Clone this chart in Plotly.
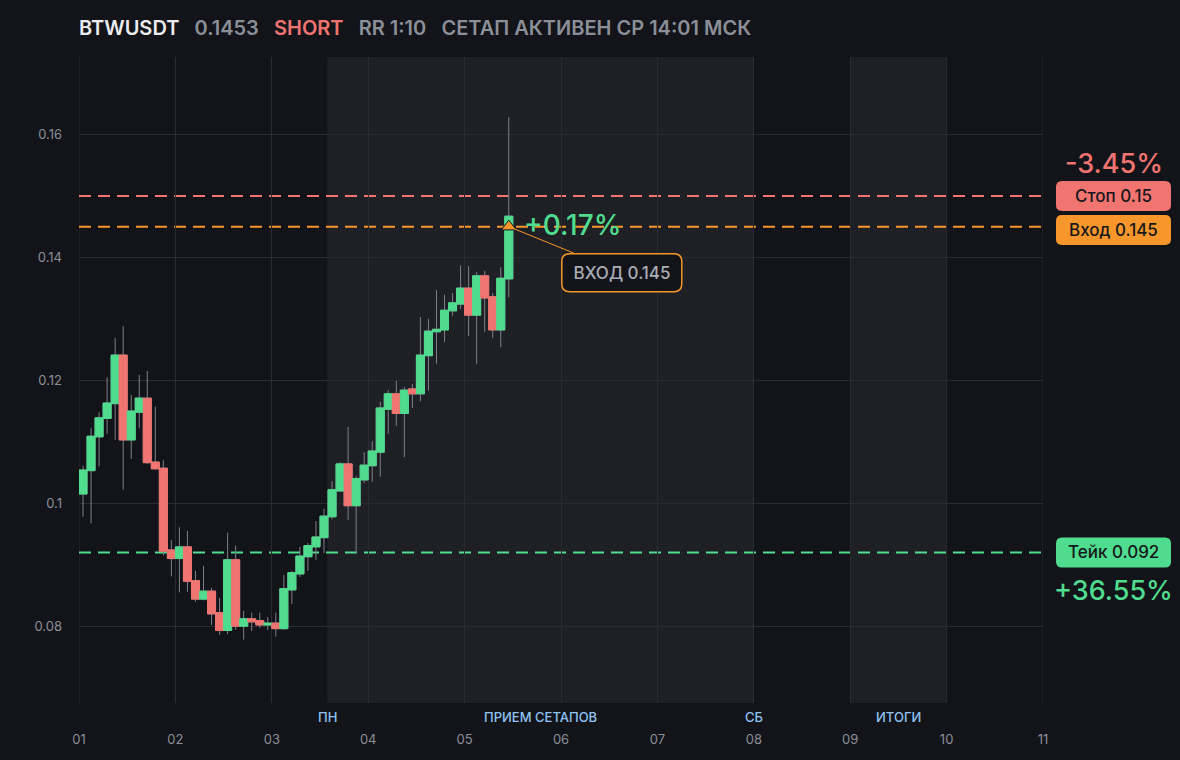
import numpy as np
import plotly.graph_objects as go

# ---- Data: 2h candles, BTWUSDT ----
opens = [0.1015, 0.1053, 0.1108, 0.1138, 0.1162, 0.1241, 0.1103, 0.1148, 0.1171, 0.1067,
         0.1057, 0.0924, 0.0910, 0.0929, 0.0874, 0.0844, 0.0857, 0.0822, 0.0793, 0.0908,
         0.0800, 0.0812, 0.0809, 0.0802, 0.0805, 0.0796, 0.0859, 0.0885, 0.0913, 0.0929,
         0.0944, 0.0978, 0.1020, 0.1064, 0.0996, 0.1038, 0.1061, 0.1083, 0.1153, 0.1178,
         0.1146, 0.1186, 0.1178, 0.1240, 0.1279, 0.1282, 0.1313, 0.1324, 0.1350, 0.1306,
         0.1370, 0.1336, 0.1282, 0.1365]
highs = [0.1061, 0.1122, 0.1148, 0.1205, 0.1269, 0.1288, 0.1176, 0.1209, 0.1215, 0.1157,
         0.1070, 0.0940, 0.0961, 0.0955, 0.0890, 0.0898, 0.0862, 0.0846, 0.0952, 0.0931,
         0.0825, 0.0822, 0.0822, 0.0815, 0.0822, 0.0883, 0.0890, 0.0929, 0.0935, 0.0971,
         0.0991, 0.1036, 0.1067, 0.1124, 0.1044, 0.1083, 0.1101, 0.1165, 0.1184, 0.1199,
         0.1189, 0.1194, 0.1303, 0.1300, 0.1347, 0.1339, 0.1342, 0.1387, 0.1386, 0.1376,
         0.1378, 0.1342, 0.1384, 0.1628]
lows = [0.0978, 0.0967, 0.1060, 0.1113, 0.1103, 0.1022, 0.1072, 0.1122, 0.1064, 0.1055,
        0.0915, 0.0881, 0.0855, 0.0856, 0.0840, 0.0842, 0.0802, 0.0786, 0.0787, 0.0794,
        0.0778, 0.0792, 0.0797, 0.0794, 0.0783, 0.0794, 0.0836, 0.0880, 0.0890, 0.0908,
        0.0919, 0.0974, 0.1019, 0.0973, 0.0919, 0.1033, 0.1035, 0.1043, 0.1113, 0.1126,
        0.1075, 0.1155, 0.1166, 0.1183, 0.1227, 0.1262, 0.1305, 0.1316, 0.1272, 0.1227,
        0.1279, 0.1269, 0.1254, 0.1335]
closes = [0.1054, 0.1109, 0.1139, 0.1163, 0.1241, 0.1103, 0.1150, 0.1171, 0.1066, 0.1056,
          0.0922, 0.0910, 0.0929, 0.0873, 0.0844, 0.0857, 0.0820, 0.0793, 0.0908, 0.0800,
          0.0812, 0.0807, 0.0802, 0.0805, 0.0796, 0.0861, 0.0887, 0.0914, 0.0931, 0.0945,
          0.0979, 0.1022, 0.1064, 0.0996, 0.1040, 0.1062, 0.1085, 0.1155, 0.1178, 0.1146,
          0.1184, 0.1178, 0.1241, 0.1280, 0.1283, 0.1314, 0.1326, 0.1350, 0.1306, 0.1370,
          0.1334, 0.1282, 0.1366, 0.1467]

STOP, ENTRY, TAKE = 0.15, 0.145, 0.092
day_ticks = list(range(1, 12))
day_labels = ["01", "02", "03", "04", "05", "06", "07", "08", "09", "10", "11"]
session_start, session_end = 3.575, 8.0
summary_start, summary_end = 9.0, 10.0

# candle centres: every 2 hours from day 1
times = 1 + (2 * np.arange(len(opens)) + 1) / 24

# ---- Layout geometry ----
W, H = 1180, 760
ML, MR, MT, MB = 79, 137, 57, 57
PW, PH = W - ML - MR, H - MT - MB
X_RANGE = [1, 11]
Y_RANGE = [0.0675, 0.1726]

BG = "#131419"
SHADE = "#1f2025"
GRID = "#2a2b31"
GREEN = "#4fdc8f"
RED = "#f07470"
ORANGE = "#f7972b"
GRAY = "#8b8f98"
BLUE = "#90c4f4"
FONT = "Inter"


def x_px(v):
    return ML + (v - X_RANGE[0]) / (X_RANGE[1] - X_RANGE[0]) * PW


def y_px(v):
    return MT + (Y_RANGE[1] - v) / (Y_RANGE[1] - Y_RANGE[0]) * PH


def px_x(p):
    return (p - ML) / PW


def px_y(p):
    return (H - MB - p) / PH


def rounded_box(x0, y0, x1, y1, r, fill, line_color, line_width=0):
    # pixel box -> paper-space path with rounded corners
    pts = [
        ("M", x0 + r, y0), ("L", x1 - r, y0), ("Q", x1, y0, x1, y0 + r),
        ("L", x1, y1 - r), ("Q", x1, y1, x1 - r, y1), ("L", x0 + r, y1),
        ("Q", x0, y1, x0, y1 - r), ("L", x0, y0 + r), ("Q", x0, y0, x0 + r, y0),
    ]
    path = ""
    for p in pts:
        cmd, coords = p[0], p[1:]
        s = []
        for k in range(0, len(coords), 2):
            s.append(f"{px_x(coords[k]):.5f},{px_y(coords[k + 1]):.5f}")
        path += cmd + " ".join(s) + " "
    return dict(type="path", path=path + "Z", xref="paper", yref="paper",
                fillcolor=fill, line=dict(color=line_color, width=line_width), layer="above")


fig = go.Figure()

# wicks (gray)
fig.add_trace(go.Candlestick(
    x=times, open=opens, high=highs, low=lows, close=closes,
    increasing=dict(line=dict(color="#7d8088", width=1), fillcolor="rgba(0,0,0,0)"),
    decreasing=dict(line=dict(color="#7d8088", width=1), fillcolor="rgba(0,0,0,0)"),
    whiskerwidth=0, hoverinfo="skip", showlegend=False,
))
# bodies
body_hi = [max(o, c) for o, c in zip(opens, closes)]
body_lo = [min(o, c) for o, c in zip(opens, closes)]
fig.add_trace(go.Candlestick(
    x=times, open=opens, high=body_hi, low=body_lo, close=closes,
    increasing=dict(line=dict(color=GREEN, width=1), fillcolor=GREEN),
    decreasing=dict(line=dict(color=RED, width=1), fillcolor=RED),
    whiskerwidth=0, showlegend=False,
))

# entry marker
x_last = times[-1]
fig.add_trace(go.Scatter(
    x=[x_last], y=[ENTRY], mode="markers", showlegend=False, hoverinfo="skip",
    marker=dict(symbol="triangle-up", size=13, color=ORANGE, line=dict(color=BG, width=1)),
))

shapes = []
# session shading
for a, b in [(session_start, session_end), (summary_start, summary_end)]:
    shapes.append(dict(type="rect", xref="x", yref="paper", x0=a, x1=b, y0=0, y1=1,
                       fillcolor=SHADE, line=dict(width=0), layer="below"))
# grid lines at the range edges (plotly skips them)
for xv in (X_RANGE[0], X_RANGE[1]):
    shapes.append(dict(type="line", xref="x", yref="paper", x0=xv, x1=xv, y0=0, y1=1,
                       line=dict(color=GRID, width=1), layer="below"))
# level lines
for lvl, col in [(STOP, RED), (ENTRY, ORANGE), (TAKE, GREEN)]:
    shapes.append(dict(type="line", xref="paper", yref="y", x0=0, x1=1, y0=lvl, y1=lvl,
                       line=dict(color=col, width=2, dash="12px,7px"), layer="between"))

# right side labels
bx0, bx1 = 1056, 1171
stop_cy = y_px(STOP)
entry_cy = max(y_px(ENTRY), stop_cy + 34)
take_cy = y_px(TAKE)
for cy, col in [(stop_cy, RED), (entry_cy, ORANGE), (take_cy, GREEN)]:
    shapes.append(rounded_box(bx0, cy - 15, bx1, cy + 15, 6, col, col, 0))

# callout box
cx, cy = x_px(x_last) + 113, y_px(ENTRY) + 46
shapes.append(rounded_box(cx - 60, cy - 19, cx + 60, cy + 19, 8, BG, ORANGE, 1.5))

annotations = []
mid_x = px_x((bx0 + bx1) / 2)
for cyy, txt in [(stop_cy, "Стоп 0.15"), (entry_cy, "Вход 0.145"), (take_cy, "Тейк 0.092")]:
    annotations.append(dict(xref="paper", yref="paper", x=mid_x, y=px_y(cyy), text=txt,
                            showarrow=False, xanchor="center", yanchor="middle",
                            font=dict(family=FONT, size=17, color="#16171b", weight=500)))
annotations.append(dict(xref="paper", yref="paper", x=mid_x, y=px_y(stop_cy - 32), text="-3.45%",
                        showarrow=False, xanchor="center", yanchor="middle",
                        font=dict(family=FONT, size=27, color=RED, weight=500)))
annotations.append(dict(xref="paper", yref="paper", x=mid_x, y=px_y(take_cy + 38), text="+36.55%",
                        showarrow=False, xanchor="center", yanchor="middle",
                        font=dict(family=FONT, size=27, color=GREEN, weight=500)))

# +0.17% next to the entry
annotations.append(dict(x=x_last, y=ENTRY, xref="x", yref="y", text="+0.17%", showarrow=False,
                        xanchor="left", yanchor="middle", xshift=13, yshift=2,
                        font=dict(family=FONT, size=28, color=GREEN, weight=500)))

# callout with connector
annotations.append(dict(x=x_last, y=ENTRY, xref="x", yref="y", text="ВХОД 0.145",
                        showarrow=True, ax=113, ay=46, arrowhead=0, arrowwidth=1,
                        arrowcolor=ORANGE, standoff=0, width=112, height=30, borderpad=4,
                        bordercolor="rgba(0,0,0,0)", borderwidth=1,
                        font=dict(family=FONT, size=17, color="#a9adb5", weight=500)))

# header
header = (f"<span style='color:#ececee'>BTWUSDT</span>   "
          f"<span style='color:{GRAY}'>0.1453</span>   "
          f"<span style='color:{RED}'>SHORT</span>   "
          f"<span style='color:{GRAY}'>RR 1:10</span>   "
          f"<span style='color:{GRAY}'>СЕТАП АКТИВЕН СР 14:01 МСК</span>")
annotations.append(dict(xref="paper", yref="paper", x=0, y=px_y(28), text=header,
                        showarrow=False, xanchor="left", yanchor="middle", xshift=-2,
                        font=dict(family=FONT, size=20, weight=600)))

# session labels under the axis
for xv, txt in [(session_start, "ПН"), ((session_start + session_end) / 2, "ПРИЕМ СЕТАПОВ"),
                (session_end, "СБ"), ((summary_start + summary_end) / 2, "ИТОГИ")]:
    annotations.append(dict(x=xv, xref="x", yref="paper", y=px_y(717), text=txt, showarrow=False,
                            xanchor="center", yanchor="middle",
                            font=dict(family=FONT, size=13, color=BLUE, weight=500)))

fig.update_layout(
    width=W, height=H,
    margin=dict(l=ML, r=MR, t=MT, b=MB),
    paper_bgcolor=BG, plot_bgcolor=BG,
    font=dict(family=FONT, color=GRAY, size=13),
    showlegend=False, boxgap=0, boxgroupgap=0,
    shapes=shapes, annotations=annotations,
    xaxis=dict(range=X_RANGE, tickvals=day_ticks, ticktext=day_labels, showgrid=True,
               gridcolor=GRID, gridwidth=1, zeroline=False, showline=False,
               rangeslider=dict(visible=False), ticks="", ticklabelstandoff=27,
               tickfont=dict(family=FONT, size=13, color=GRAY)),
    yaxis=dict(range=Y_RANGE, tick0=0, dtick=0.02, showgrid=True, gridcolor=GRID, gridwidth=1,
               zeroline=False, showline=False, ticks="", ticklabelstandoff=16,
               tickfont=dict(family=FONT, size=13, color=GRAY)),
)

fig.write_html("out.html", config={"displayModeBar": False},
               post_script="document.body.style.margin='0';"
                           "document.body.style.background='" + BG + "';")
